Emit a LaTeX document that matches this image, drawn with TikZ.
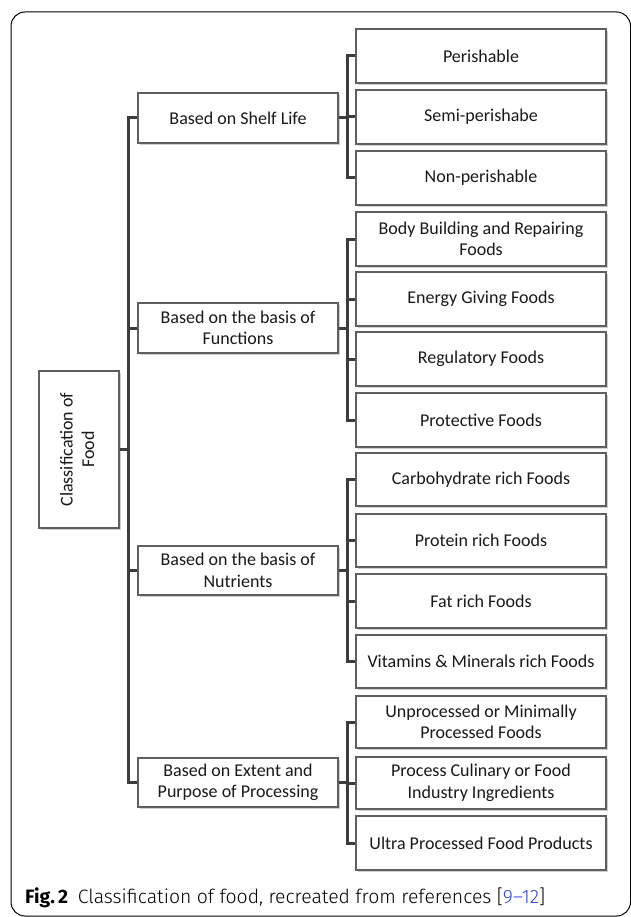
\documentclass[tikz,border=0pt]{standalone}
\usepackage{fontspec}
\setmainfont{Carlito}
\newfontfamily\capfont{Fira Sans Light}[BoldFont={Fira Sans Bold}]
\usetikzlibrary{shadows}
\definecolor{boxline}{RGB}{95,95,95}
\definecolor{connc}{RGB}{60,60,60}
\definecolor{refblue}{RGB}{50,70,225}
\begin{document}
\begin{tikzpicture}[x=1pt,y=-1pt,
  box/.style={draw=boxline, line width=1.3pt, fill=white, inner sep=0pt, align=center,
    font=\fontsize{18}{21.5}\selectfont, text=black!90,
    drop shadow={shadow xshift=1.6pt, shadow yshift=-1.8pt, opacity=0.35, fill=black!55}},
  lvl/.style={box, minimum width=200, minimum height=50},
  leaf/.style={box, minimum width=250, minimum height=54},
  conn/.style={draw=connc, line width=3pt, line join=miter}]
\useasboundingbox (0,0) rectangle (630,917);
\draw[line width=1pt, rounded corners=14pt] (11,12) rectangle (630.5,916);

% root
\node[box, minimum width=80, minimum height=157] (root) at (79,449.5)
  {\rotatebox{90}{\begin{tabular}{@{}c@{}}Classification of\\Food\end{tabular}}};

% level 1
\node[lvl] (shelf) at (238,118) {Based on Shelf Life};
\node[lvl] (func) at (238,328) {Based on the basis of\\Functions};
\node[lvl, minimum height=49] (nutr) at (238,570.5) {Based on the basis of\\Nutrients};
\node[lvl, minimum height=49] (proc) at (238,782.5) {Based on Extent and\\Purpose of Processing};

% leaves
\node[leaf] (per) at (481,56) {Perishable};
\node[leaf] (semi) at (481,117) {Semi-perishabe};
\node[leaf] (non) at (481,178) {Non-perishable};
\node[leaf] (body) at (481,239) {Body Building and Repairing\\Foods};
\node[leaf] (energy) at (481,299) {Energy Giving Foods};
\node[leaf] (reg) at (481,359) {Regulatory Foods};
\node[leaf] (prot) at (481,420) {Protective Foods};
\node[leaf, minimum height=53] (carbo) at (481,479.5) {Carbohydrate rich Foods};
\node[leaf, minimum height=53] (protein) at (481,540.5) {Protein rich Foods};
\node[leaf] (fat) at (481,601) {Fat rich Foods};
\node[leaf, minimum height=53] (vit) at (481,661.5) {Vitamins \& Minerals rich Foods};
\node[leaf, minimum height=52] (unproc) at (481,722) {Unprocessed or Minimally\\Processed Foods};
\node[leaf, minimum height=52] (culin) at (481,783) {Process Culinary or Food\\Industry Ingredients};
\node[leaf] (ultra) at (481,843) {Ultra Processed Food Products};

% connectors
\coordinate (tr) at (128,0);
\coordinate (br) at (347,0);
\draw[conn] (shelf.west) -- (shelf.west -| tr) -- (proc.west -| tr) -- (proc.west);
\draw[conn] (root.east) -- (root.east -| tr);
\draw[conn] (func.west) -- (func.west -| tr);
\draw[conn] (nutr.west) -- (nutr.west -| tr);

\draw[conn] (per.west) -- (per.west -| br) -- (non.west -| br) -- (non.west);
\draw[conn] (shelf.east) -- (shelf.east -| br);
\draw[conn] (semi.west) -- (semi.west -| br);

\draw[conn] (body.west) -- (body.west -| br) -- (prot.west -| br) -- (prot.west);
\draw[conn] (func.east) -- (func.east -| br);
\draw[conn] (energy.west) -- (energy.west -| br);
\draw[conn] (reg.west) -- (reg.west -| br);

\draw[conn] (carbo.west) -- (carbo.west -| br) -- (vit.west -| br) -- (vit.west);
\draw[conn] (nutr.east) -- (nutr.east -| br);
\draw[conn] (protein.west) -- (protein.west -| br);
\draw[conn] (fat.west) -- (fat.west -| br);

\draw[conn] (unproc.west) -- (unproc.west -| br) -- (ultra.west -| br) -- (ultra.west);
\draw[conn] (proc.east) -- (proc.east -| br);
\draw[conn] (culin.west) -- (culin.west -| br);

% caption
\node[anchor=base west, inner sep=0pt, font=\capfont\fontsize{19.4}{22}\selectfont] (cap) at (25,903)
  {\textbf{Fig.\,2}\hspace{0.5em}Classification of food, recreated from references [\textcolor{refblue}{9–12}]};
\end{tikzpicture}
\end{document}
